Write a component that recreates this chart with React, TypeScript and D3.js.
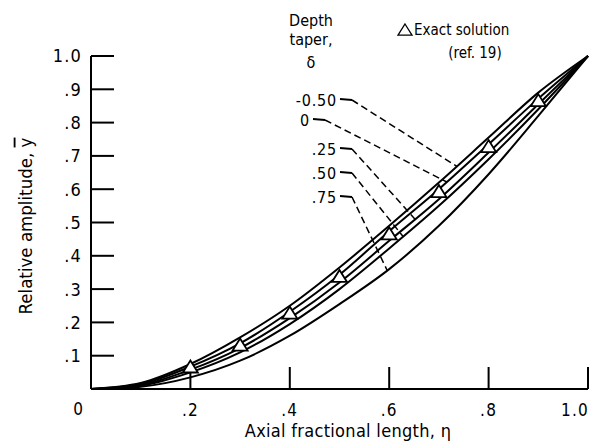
import React from "react";
import * as d3 from "d3";

const W = 598;
const H = 448;

const etaGrid = [0, 0.1, 0.2, 0.3, 0.4, 0.5, 0.6, 0.7, 0.8, 0.9, 1.0];
const deltaLabels = ["-0.50", "0", ".25", ".50", ".75"];
const curveNeg050 = [0, 0.018, 0.075, 0.155, 0.25, 0.365, 0.49, 0.62, 0.755, 0.89, 1.0];
const curve000 = [0, 0.015, 0.067, 0.137, 0.232, 0.343, 0.474, 0.6, 0.735, 0.872, 1.0];
const curve025 = [0, 0.012, 0.058, 0.123, 0.213, 0.32, 0.445, 0.57, 0.71, 0.855, 1.0];
const curve050 = [0, 0.01, 0.05, 0.11, 0.195, 0.3, 0.422, 0.55, 0.69, 0.84, 1.0];
const curve075 = [0, 0.007, 0.035, 0.085, 0.16, 0.255, 0.36, 0.49, 0.645, 0.82, 1.0];
const curves = [curveNeg050, curve000, curve025, curve050, curve075];
const leaderEta = [0.736, 0.716, 0.652, 0.628, 0.596];

const exactEta = [0.2, 0.3, 0.4, 0.5, 0.6, 0.7, 0.8, 0.9];
const exactY = [0.063, 0.129, 0.225, 0.335, 0.463, 0.59, 0.725, 0.863];

const xTicks = [0.2, 0.4, 0.6, 0.8, 1.0];
const xTickLabels = [".2", ".4", ".6", ".8", "1.0"];
const yTicks = [0.1, 0.2, 0.3, 0.4, 0.5, 0.6, 0.7, 0.8, 0.9, 1.0];
const yTickLabels = [".1", ".2", ".3", ".4", ".5", ".6", ".7", ".8", ".9", "1.0"];

const FONT = "'DejaVu Sans Condensed', 'Liberation Sans Narrow', 'DejaVu Sans', sans-serif";

export default function App() {
  const x = d3.scaleLinear().domain([0, 1]).range([91, 588]);
  const y = d3.scaleLinear().domain([0, 1]).range([389, 56]);

  const line = d3
    .line<number>()
    .x((_, i) => x(etaGrid[i]))
    .y((d) => y(d))
    .curve(d3.curveMonotoneX);

  const interp = (vals: number[], e: number) => {
    const i = Math.min(etaGrid.length - 2, Math.floor(e * 10));
    const t = (e - etaGrid[i]) / (etaGrid[i + 1] - etaGrid[i]);
    return vals[i] + t * (vals[i + 1] - vals[i]);
  };

  const labelY = [100, 120, 149, 173, 197];
  const labelRight = [337, 310, 337, 337, 337];

  const tri = (cx: number, cy: number, s = 7.5) =>
    `M${cx},${cy - s} L${cx + s},${cy + s * 0.6} L${cx - s},${cy + s * 0.6} Z`;

  return (
    <svg
      width={W}
      height={H}
      style={{ position: "fixed", left: 0, top: 0, background: "#fff" }}
      fontFamily={FONT}
    >
      <rect x={0} y={0} width={W} height={H} fill="#fff" />
      {/* axes */}
      <line x1={x(0)} x2={x(0)} y1={y(1)} y2={y(0)} stroke="#000" strokeWidth={2} />
      <line x1={x(0)} x2={x(1)} y1={y(0)} y2={y(0)} stroke="#000" strokeWidth={2} />
      {yTicks.map((t, i) => (
        <g key={"yt" + i}>
          <line x1={x(0)} x2={x(0) + 23} y1={y(t)} y2={y(t)} stroke="#000" strokeWidth={2} />
          <text x={82} y={y(t)} dy="0.36em" textAnchor="end" fontSize={18} letterSpacing={1.2}>
            {yTickLabels[i]}
          </text>
        </g>
      ))}
      {xTicks.map((t, i) => (
        <g key={"xt" + i}>
          <line x1={x(t)} x2={x(t)} y1={y(0)} y2={y(0) - 22} stroke="#000" strokeWidth={2} />
          <text
            x={t === 1 ? x(t) + 1 : x(t)}
            y={416}
            textAnchor={t === 1 ? "end" : "middle"}
            fontSize={17}
            letterSpacing={1.2}
          >
            {xTickLabels[i]}
          </text>
        </g>
      ))}
      <text x={78} y={415} textAnchor="middle" fontSize={17}>
        0
      </text>
      {/* axis titles */}
      <text x={348} y={437} textAnchor="middle" fontSize={18} letterSpacing={0.3}>
        Axial fractional length, η
      </text>
      <text
        transform={`translate(25,226) rotate(-90)`}
        textAnchor="middle"
        dy="0.36em"
        fontSize={18.5}
      >
        Relative amplitude, <tspan textDecoration="overline">y</tspan>
      </text>

      {/* curves */}
      {curves.map((c, i) => (
        <path key={"c" + i} d={line(c) || ""} fill="none" stroke="#000" strokeWidth={2} />
      ))}

      {/* exact solution triangles */}
      {exactEta.map((e, i) => (
        <path
          key={"tr" + i}
          d={tri(x(e), y(exactY[i]))}
          fill="#fff"
          stroke="#000"
          strokeWidth={1.8}
        />
      ))}

      {/* legend labels and leaders */}
      <text x={311} y={20} dy="0.36em" textAnchor="middle" fontSize={16}>
        Depth
      </text>
      <text x={311} y={39} dy="0.36em" textAnchor="middle" fontSize={16}>
        taper,
      </text>
      <text x={311} y={62} dy="0.36em" textAnchor="middle" fontSize={16}>
        δ
      </text>
      {deltaLabels.map((lab, i) => {
        const sx = labelRight[i] + 3;
        const sy = labelY[i];
        const ex = x(leaderEta[i]);
        const ey = y(interp(curves[i], leaderEta[i]));
        const bx = sx + 12;
        return (
          <g key={"lg" + i}>
            <text
              x={labelRight[i]}
              y={sy}
              dy="0.36em"
              textAnchor="end"
              fontSize={16}
              letterSpacing={0.8}
            >
              {lab}
            </text>
            <line x1={sx} x2={bx} y1={sy - 1} y2={sy} stroke="#000" strokeWidth={1.8} />
            <line
              x1={bx}
              y1={sy}
              x2={ex}
              y2={ey}
              stroke="#000"
              strokeWidth={1.5}
              strokeDasharray="7,4"
            />
          </g>
        );
      })}

      {/* exact solution legend */}
      <path d={tri(405, 31, 7)} fill="#fff" stroke="#000" strokeWidth={1.3} />
      <text x={414} y={30} dy="0.36em" textAnchor="start" fontSize={15}>
        Exact solution
      </text>
      <text x={475} y={53} dy="0.36em" textAnchor="middle" fontSize={15}>
        (ref. 19)
      </text>
    </svg>
  );
}
